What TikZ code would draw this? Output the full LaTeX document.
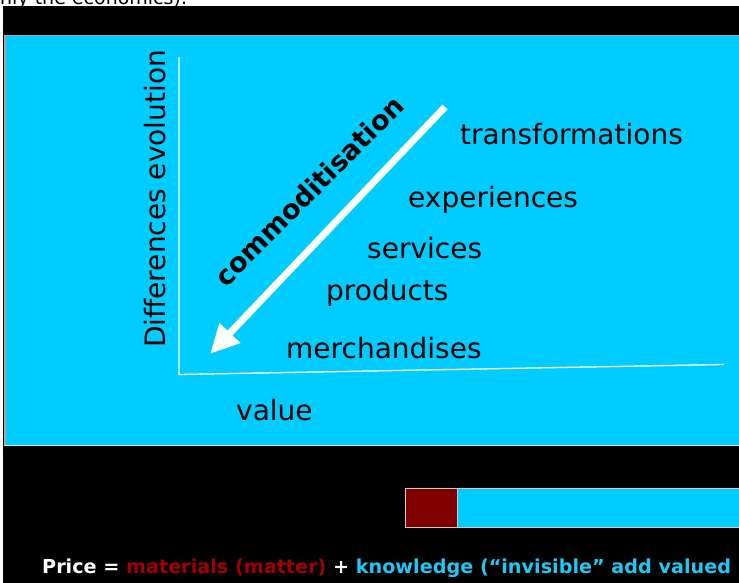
\documentclass[tikz,border=0pt]{standalone}
\usepackage{fontspec}
\setmainfont{DejaVu Sans}
\usetikzlibrary{arrows.meta}
\definecolor{slidecyan}{HTML}{00CCFF}
\definecolor{matterred}{HTML}{800000}
\definecolor{mattertext}{HTML}{A00000}
\definecolor{knowcyan}{HTML}{1EC8F5}
\begin{document}
\begin{tikzpicture}[x=1pt,y=-1pt,
  lbl/.style={font=\fontsize{28}{32}\selectfont, text=black, inner sep=0pt, anchor=base west},
  axisline/.style={white, line width=1.3pt},
  bigarrow/.style={white, line width=7pt, -{Triangle[length=29pt,width=27pt]}}]
\clip (0,0) rectangle (739,583);
\useasboundingbox (0,0) rectangle (739,583);
\fill[white] (0,0) rectangle (739,583);
\node[anchor=base west, inner sep=0pt, font=\fontsize{19}{22}\selectfont] (toptext) at (0,4.5) {nly the economics).};
\fill[black] (3,6) rectangle (739,583);
% slide panel
\fill[slidecyan] (4,35) rectangle (739,446);
\draw[gray!70, line width=1.5pt] (4.75,446) -- (4.75,35.75) -- (739,35.75);
\draw[white!70!slidecyan, line width=1.2pt] (4,445.5) -- (739,445.5);
% axes
\coordinate (ytop) at (179,57);
\coordinate (origin) at (179,374.5);
\coordinate (xend) at (724,364.5);
\draw[axisline] (ytop) -- (origin) -- (xend);
% arrow
\coordinate (atail) at (445,107);
\coordinate (ahead) at (210,354);
\draw[bigarrow] (atail) -- (ahead);
\node[font=\bfseries\fontsize{27}{30}\selectfont, rotate=45, inner sep=0pt] (comm) at (309,191) {commoditisation};
\node[font=\fontsize{28}{32}\selectfont, rotate=90, inner sep=0pt] (diffev) at (155,199) {Differences evolution};
% labels
\node[lbl] (transf) at (460,145) {transformations};
\node[lbl] (exper) at (408,207) {experiences};
\node[lbl] (serv) at (367,258) {services};
\node[lbl] (prod) at (326,300) {products};
\node[lbl] (merch) at (286,358) {merchandises};
\node[lbl] (val) at (236,420) {value};
% bar
\fill[matterred] (405,488) rectangle (457,528);
\fill[slidecyan] (457,488) rectangle (739,528);
\draw[gray!40, line width=1pt] (739,488.5) -- (405.5,488.5) -- (405.5,527.5) -- (739,527.5);
\draw[gray!40, line width=0.8pt] (457,488.5) -- (457,527.5);
% bottom text
\node[anchor=base west, inner sep=0pt, font=\bfseries\fontsize{19.2}{22}\selectfont] (price) at (42,573)
  {\textcolor{white}{Price =} \textcolor{mattertext}{materials (matter)} \textcolor{white}{+} \textcolor{knowcyan}{knowledge (“invisible” add valued}};
\end{tikzpicture}
\end{document}
